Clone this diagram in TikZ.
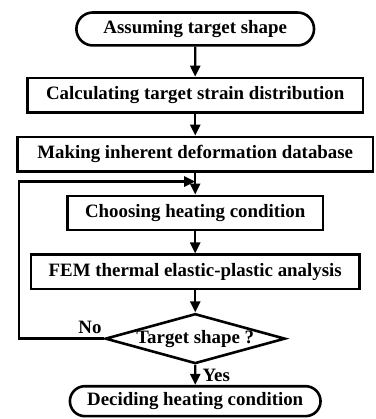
\documentclass[tikz,border=0pt]{standalone}
\usepackage{fontspec}
\setmainfont{Liberation Serif}
\usetikzlibrary{positioning,arrows.meta,shapes.geometric,shapes.misc,calc}

\begin{document}
\begin{tikzpicture}[
  node distance=11pt, >={Triangle[width=5pt,length=5.5pt]},
  font=\fontsize{9.45}{11}\selectfont\bfseries,
  box/.style={draw, line width=1.3pt, minimum height=17.2pt, inner sep=0pt, align=center},
  terminal/.style={box, rounded rectangle, minimum height=16.5pt},
  proc/.style={box},
  decision/.style={box, diamond, aspect=3.6},
  flow/.style={->, line width=1.2pt},
  lbl/.style={inner sep=0pt},
]
  \useasboundingbox (0,0) rectangle (188pt,-209.8pt);
  \node[terminal, minimum width=119pt] (start) at (97.75pt,-14.5pt) {Assuming target shape};
  \node[proc, minimum width=168pt, below=15pt of start] (strain) {Calculating target strain distribution};
  \node[proc, minimum width=178pt, below=of strain] (db) {Making inherent deformation database};
  \node[proc, minimum width=128pt, below=of db] (choose) {Choosing heating condition};
  \node[proc, minimum width=164.5pt, below=of choose] (fem) {FEM thermal elastic-plastic analysis};
  \node[decision, below=of fem] (check) {Target shape ?};
  \node[terminal, minimum width=125.5pt, minimum height=15pt, below=10pt of check] (finish) {Deciding heating condition};
  % loop-back point and label anchors
  \coordinate (merge) at ($(db.south)!0.41!(choose.north)$);
  \coordinate (yespt) at ($(check.south)!0.5!(finish.north)$);
  \draw[flow] (start) -- (strain);
  \draw[flow] (strain) -- (db);
  \draw[flow] (db) -- (choose);
  \draw[flow] (choose) -- (fem);
  \draw[flow] (fem) -- (check);
  \draw[flow] (check) -- (finish);
  \draw[flow] (check.west) -- ++(-42.5pt,0) |- (merge);
  \node[lbl, right=3.5pt of yespt] (yes) {Yes};
  \node[lbl, above left=2.5pt and 1pt of check.west] (no) {No};
\end{tikzpicture}
\end{document}
